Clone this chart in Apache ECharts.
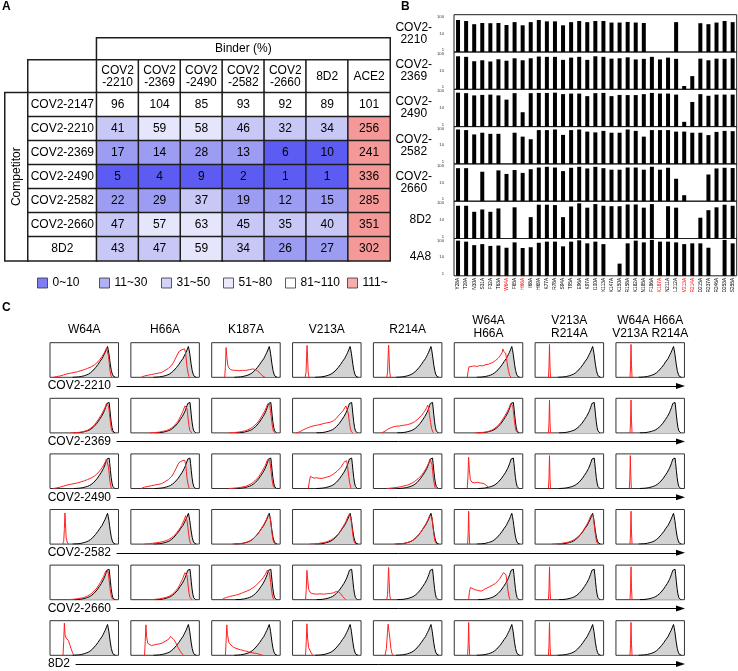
<!DOCTYPE html>
<html><head><meta charset="utf-8">
<script src="https://cdn.jsdelivr.net/npm/echarts@6/dist/echarts.min.js"></script>
<style>html,body{margin:0;padding:0;background:#fff}#c{width:738px;height:671px}</style>
</head><body><div id="c"></div><script>
const FONT = '"Liberation Sans", Arial, Helvetica, sans-serif';

// ---------- Panel A data ----------
const binders = ['COV2\n-2210','COV2\n-2369','COV2\n-2490','COV2\n-2582','COV2\n-2660','8D2','ACE2'];
const competitors = ['COV2-2147','COV2-2210','COV2-2369','COV2-2490','COV2-2582','COV2-2660','8D2'];
const comp2147 = [96,104,85,93,92,89,101];
const comp2210 = [41,59,58,46,32,34,256];
const comp2369 = [17,14,28,13,6,10,241];
const comp2490 = [5,4,9,2,1,1,336];
const comp2582 = [22,29,37,19,12,15,285];
const comp2660 = [47,57,63,45,35,40,351];
const comp8D2  = [43,47,59,34,26,27,302];
const rangeLabels = ['0~10','11~30','31~50','51~80','81~110','111~'];
const rangeLow  = [0,11,31,51,81,111];
const rangeHigh = [10,30,50,80,110,null];
const rangeColors = ['#5c5cf2','#9c9cf3','#c8c8f7','#e5e5fb','#ffffff','#f59898'];

// ---------- Panel B data ----------
const mutants = ['Y28A','T29A','N30A','S31A','F32A','T63A','W64A','F65A','H66A','I68A','H69A','K77A','R78A','S94A','T95A','E96A','K97A','I100A','K113A','K147A','K150A','R158A','K182A','N185A','F186A','K187A','N211A','L212A','V213A','R214A','D215A','R237A','R246A','D253A','S255A'];
const redMutants = ['W64A','H66A','K187A','V213A','R214A'];
const escapeNames = ['COV2-\n2210','COV2-\n2369','COV2-\n2490','COV2-\n2582','COV2-\n2660','8D2','4A8'];
const esc2210 = [52,46,31,36,35,36,28,40,27,40,52,44,44,27,40,46,40,46,46,38,38,41,38,36,null,null,null,40,null,null,35,31,38,46,40];
const esc2369 = [59,55,32,36,31,41,34,46,36,46,57,55,55,38,50,55,38,59,55,44,46,52,40,43,55,40,50,43,1.5,5.1,44,36,44,43,46];
const esc2490 = [66,62,47,50,52,47,28,62,5.9,62,64,64,66,55,59,59,43,62,64,43,50,49,49,55,64,59,59,52,1.8,21,55,45,52,52,52];
const esc2582 = [70,65,38,47,41,41,null,47,29,21,65,65,70,36,65,70,54,49,59,47,47,70,59,29,65,65,65,54,54,47,47,35,52,59,57];
const esc2660 = [59,59,null,38,null,45,29,47,33,52,64,70,64,41,62,70,57,70,59,49,49,64,64,49,70,49,62,16,2.1,null,null,27,57,62,60];
const esc8D2  = [57,57,27,36,27,41,null,47,null,14,65,65,62,14,52,77,45,70,57,54,54,67,67,45,70,null,54,45,null,null,13,33,47,65,57];
const esc4A8  = [77,68,44,50,40,42,32,62,31,34,59,68,68,38,68,80,55,68,50,null,4.5,55,77,62,84,68,68,62,50,55,55,32,null,84,55];
const escapeRows = [esc2210,esc2369,esc2490,esc2582,esc2660,esc8D2,esc4A8];

// ---------- Panel C data (normalised histogram outlines: [position, height]) ----------
const cColumns = ['W64A','H66A','K187A','V213A','R214A','W64A\nH66A','V213A\nR214A','W64A H66A\nV213A R214A'];
const cRows = ['COV2-2210','COV2-2369','COV2-2490','COV2-2582','COV2-2660','8D2'];
const wtA = [[0.33,0],[0.38,0.005],[0.42,0.012],[0.46,0.025],[0.5,0.045],[0.53,0.065],[0.56,0.09],[0.59,0.13],[0.62,0.18],[0.645,0.23],[0.665,0.28],[0.685,0.32],[0.7,0.37],[0.715,0.41],[0.73,0.46],[0.745,0.5],[0.76,0.54],[0.775,0.6],[0.79,0.66],[0.805,0.72],[0.82,0.79],[0.83,0.83],[0.84,0.89],[0.85,0.8],[0.86,0.68],[0.87,0.53],[0.88,0.38],[0.895,0.2],[0.91,0.09],[0.925,0.03],[0.94,0.008],[0.955,0]];
const wtB = [[0.35,0],[0.4,0.005],[0.44,0.012],[0.48,0.025],[0.52,0.045],[0.55,0.065],[0.58,0.09],[0.61,0.13],[0.64,0.18],[0.665,0.23],[0.685,0.28],[0.705,0.33],[0.72,0.38],[0.735,0.42],[0.75,0.47],[0.765,0.52],[0.78,0.58],[0.795,0.65],[0.81,0.73],[0.82,0.79],[0.83,0.85],[0.838,0.82],[0.846,0.87],[0.855,0.83],[0.863,0.88],[0.872,0.72],[0.882,0.52],[0.893,0.32],[0.905,0.16],[0.918,0.06],[0.93,0.015],[0.945,0]];
const redSame1 = [[0.3,0],[0.36,0.005],[0.42,0.015],[0.47,0.03],[0.51,0.05],[0.55,0.08],[0.59,0.13],[0.62,0.18],[0.65,0.24],[0.675,0.3],[0.695,0.35],[0.71,0.4],[0.725,0.45],[0.74,0.5],[0.755,0.55],[0.77,0.6],[0.785,0.66],[0.8,0.72],[0.812,0.78],[0.822,0.84],[0.83,0.8],[0.838,0.87],[0.846,0.85],[0.855,0.78],[0.864,0.62],[0.873,0.45],[0.883,0.28],[0.895,0.12],[0.908,0.04],[0.92,0.01],[0.935,0]];
const redSame2 = [[0.25,0],[0.32,0.01],[0.38,0.02],[0.44,0.04],[0.49,0.06],[0.53,0.09],[0.57,0.13],[0.6,0.17],[0.63,0.22],[0.66,0.28],[0.685,0.34],[0.705,0.4],[0.72,0.45],[0.735,0.5],[0.75,0.55],[0.765,0.6],[0.78,0.66],[0.795,0.73],[0.808,0.8],[0.818,0.83],[0.828,0.86],[0.838,0.88],[0.848,0.8],[0.858,0.65],[0.868,0.48],[0.878,0.3],[0.89,0.15],[0.9,0.06],[0.912,0.015],[0.925,0]];
const redLeft1 = [[0.28,0],[0.35,0.01],[0.42,0.025],[0.48,0.05],[0.52,0.07],[0.56,0.1],[0.6,0.15],[0.63,0.2],[0.66,0.27],[0.685,0.33],[0.705,0.4],[0.72,0.46],[0.735,0.52],[0.75,0.58],[0.765,0.65],[0.778,0.72],[0.79,0.78],[0.8,0.82],[0.81,0.8],[0.82,0.7],[0.83,0.52],[0.84,0.34],[0.85,0.18],[0.862,0.07],[0.875,0.015],[0.89,0]];
const redLeft2 = [[0.2,0],[0.26,0.01],[0.32,0.025],[0.38,0.04],[0.44,0.06],[0.5,0.09],[0.55,0.13],[0.6,0.19],[0.64,0.26],[0.67,0.33],[0.7,0.41],[0.72,0.47],[0.74,0.54],[0.76,0.62],[0.775,0.69],[0.79,0.76],[0.8,0.82],[0.81,0.79],[0.82,0.68],[0.832,0.5],[0.843,0.3],[0.855,0.13],[0.867,0.04],[0.88,0]];
const redBroadW = [[0.05,0],[0.1,0.02],[0.15,0.04],[0.2,0.07],[0.25,0.1],[0.3,0.12],[0.35,0.14],[0.4,0.16],[0.45,0.19],[0.5,0.22],[0.55,0.26],[0.6,0.3],[0.65,0.36],[0.7,0.45],[0.73,0.52],[0.76,0.6],[0.79,0.7],[0.81,0.78],[0.825,0.85],[0.835,0.88],[0.845,0.8],[0.855,0.6],[0.865,0.4],[0.875,0.2],[0.89,0.05],[0.9,0]];
const redBroadH = [[0.15,0],[0.2,0.04],[0.25,0.06],[0.3,0.08],[0.35,0.1],[0.4,0.12],[0.45,0.14],[0.5,0.2],[0.55,0.26],[0.6,0.36],[0.63,0.46],[0.66,0.58],[0.69,0.7],[0.71,0.76],[0.73,0.78],[0.75,0.8],[0.77,0.78],[0.785,0.82],[0.8,0.7],[0.81,0.5],[0.82,0.3],[0.835,0.12],[0.85,0.02],[0.86,0]];
const redBroadV1 = [[0.05,0],[0.1,0.03],[0.15,0.08],[0.2,0.13],[0.25,0.17],[0.3,0.2],[0.35,0.22],[0.4,0.24],[0.45,0.27],[0.5,0.29],[0.55,0.31],[0.6,0.35],[0.64,0.42],[0.68,0.52],[0.71,0.58],[0.74,0.65],[0.76,0.72],[0.78,0.78],[0.79,0.8],[0.8,0.74],[0.815,0.55],[0.83,0.3],[0.845,0.12],[0.86,0.03],[0.88,0]];
const redBroadV2 = [[0.12,0],[0.17,0.05],[0.22,0.12],[0.27,0.16],[0.32,0.19],[0.38,0.2],[0.44,0.22],[0.5,0.24],[0.55,0.27],[0.6,0.32],[0.65,0.4],[0.7,0.5],[0.73,0.58],[0.76,0.66],[0.78,0.74],[0.795,0.8],[0.805,0.72],[0.82,0.5],[0.835,0.3],[0.85,0.12],[0.87,0.02],[0.88,0]];
const redBroadR = [[0.2,0],[0.3,0.02],[0.4,0.05],[0.5,0.1],[0.55,0.14],[0.6,0.2],[0.65,0.28],[0.7,0.38],[0.73,0.46],[0.76,0.55],[0.79,0.66],[0.81,0.75],[0.825,0.84],[0.835,0.88],[0.845,0.84],[0.855,0.7],[0.865,0.5],[0.875,0.3],[0.89,0.12],[0.9,0.03],[0.915,0]];
const redBroadK = [[0.15,0],[0.18,0.04],[0.22,0.07],[0.26,0.09],[0.3,0.11],[0.35,0.13],[0.4,0.16],[0.45,0.2],[0.5,0.24],[0.55,0.28],[0.6,0.34],[0.64,0.4],[0.68,0.48],[0.72,0.56],[0.75,0.63],[0.78,0.72],[0.8,0.8],[0.815,0.86],[0.825,0.84],[0.835,0.88],[0.845,0.75],[0.86,0.5],[0.875,0.25],[0.89,0.08],[0.905,0.01],[0.915,0]];
const redPlateau1 = [[0.19,0],[0.2,0.15],[0.215,0.3],[0.24,0.35],[0.27,0.32],[0.3,0.33],[0.33,0.31],[0.37,0.34],[0.41,0.33],[0.45,0.36],[0.5,0.38],[0.55,0.42],[0.6,0.48],[0.64,0.55],[0.67,0.62],[0.7,0.72],[0.71,0.82],[0.72,0.75],[0.735,0.78],[0.75,0.7],[0.77,0.45],[0.79,0.2],[0.81,0.05],[0.83,0]];
const redPlateau2 = [[0.23,0],[0.245,0.2],[0.26,0.35],[0.28,0.34],[0.31,0.3],[0.35,0.31],[0.4,0.29],[0.45,0.3],[0.5,0.33],[0.55,0.36],[0.6,0.42],[0.65,0.5],[0.7,0.6],[0.74,0.72],[0.76,0.78],[0.775,0.82],[0.79,0.8],[0.805,0.6],[0.82,0.35],[0.835,0.15],[0.85,0.03],[0.86,0]];
const redPlateau3 = [[0.21,0],[0.22,0.2],[0.235,0.35],[0.26,0.3],[0.29,0.3],[0.32,0.28],[0.36,0.26],[0.4,0.25],[0.44,0.3],[0.48,0.34],[0.52,0.38],[0.56,0.42],[0.6,0.47],[0.64,0.55],[0.67,0.62],[0.7,0.72],[0.72,0.78],[0.74,0.8],[0.755,0.72],[0.77,0.5],[0.785,0.25],[0.8,0.08],[0.815,0]];
const redSpikeTailK = [[0.19,0],[0.2,0.3],[0.21,0.86],[0.22,0.6],[0.235,0.35],[0.25,0.27],[0.28,0.22],[0.32,0.2],[0.36,0.2],[0.4,0.19],[0.45,0.2],[0.5,0.2],[0.55,0.22],[0.6,0.24],[0.63,0.23],[0.66,0.2],[0.69,0.15],[0.72,0.08],[0.75,0.03],[0.78,0]];
const redSpikeTailV = [[0.19,0],[0.2,0.3],[0.21,0.85],[0.22,0.6],[0.235,0.3],[0.26,0.2],[0.3,0.17],[0.35,0.16],[0.4,0.17],[0.45,0.16],[0.5,0.17],[0.55,0.18],[0.6,0.2],[0.64,0.24],[0.67,0.23],[0.7,0.18],[0.73,0.1],[0.76,0.03],[0.78,0]];
const redSpikeTail2 = [[0.19,0],[0.2,0.35],[0.21,0.9],[0.22,0.55],[0.235,0.25],[0.26,0.18],[0.3,0.16],[0.34,0.18],[0.38,0.16],[0.42,0.15],[0.45,0.12],[0.48,0.07],[0.5,0.03],[0.52,0]];
const redSpikeShoulder = [[0.19,0],[0.2,0.4],[0.21,0.93],[0.22,0.6],[0.235,0.5],[0.25,0.48],[0.27,0.42],[0.29,0.3],[0.31,0.18],[0.33,0.07],[0.35,0]];
const redSpikeHump = [[0.2,0],[0.21,0.4],[0.22,0.88],[0.23,0.55],[0.245,0.35],[0.27,0.3],[0.3,0.28],[0.34,0.3],[0.38,0.32],[0.42,0.33],[0.46,0.36],[0.5,0.4],[0.53,0.44],[0.56,0.48],[0.58,0.55],[0.6,0.5],[0.63,0.45],[0.66,0.35],[0.69,0.22],[0.72,0.12],[0.75,0.04],[0.77,0]];
const redSpikeDecay = [[0.2,0],[0.21,0.4],[0.22,0.88],[0.23,0.6],[0.25,0.38],[0.28,0.3],[0.32,0.23],[0.37,0.19],[0.42,0.16],[0.48,0.13],[0.54,0.1],[0.6,0.07],[0.66,0.05],[0.71,0.02],[0.75,0]];
const redSpikeSmall = [[0.19,0],[0.2,0.4],[0.21,0.91],[0.22,0.5],[0.235,0.22],[0.25,0.17],[0.27,0.08],[0.29,0.02],[0.3,0]];
const spikeA = [[0.185,0],[0.197,0.15],[0.205,0.6],[0.212,0.92],[0.22,0.55],[0.228,0.15],[0.24,0]];
const spikeB = [[0.195,0],[0.207,0.15],[0.215,0.6],[0.222,0.93],[0.23,0.55],[0.238,0.15],[0.25,0]];
const spikeN = [[0.195,0],[0.203,0.3],[0.21,0.95],[0.217,0.35],[0.225,0]];
const spikeN2 = [[0.205,0],[0.213,0.3],[0.22,0.95],[0.227,0.35],[0.235,0]];
const spikeFoot = [[0.185,0],[0.2,0.08],[0.21,0.45],[0.218,0.9],[0.226,0.6],[0.235,0.2],[0.25,0.06],[0.27,0]];
const spikeWide = [[0.17,0],[0.19,0.2],[0.205,0.65],[0.215,0.9],[0.225,0.85],[0.24,0.5],[0.255,0.2],[0.27,0.06],[0.29,0]];
const cBlackRows = [wtA, wtB, wtB, wtA, wtB, wtA];
const cRedRows = [
  [redBroadW, redBroadH, redSpikeTailK, spikeA, spikeB, redPlateau1, spikeN, spikeN2],
  [redSame1, redLeft1, redSame2, redBroadV1, redBroadV2, redSame1, spikeN, spikeN2],
  [redBroadW, redBroadH, redSame2, redPlateau2, redBroadR, redSpikeTail2, spikeN, spikeN],
  [spikeFoot, redLeft2, redSame1, redSame2, redSame1, spikeN, redSame2, spikeN2],
  [redSame2, redLeft1, redBroadK, redSpikeTailV, spikeB, redPlateau3, spikeN, spikeN2],
  [redSpikeShoulder, redSpikeHump, redSpikeDecay, redSpikeSmall, spikeWide, spikeN, spikeN, spikeN2]
];

// ---------- build ----------
const grids = [], xAxes = [], yAxes = [], series = [];
function addGrid(g, x, y) {
  const gi = grids.length;
  grids.push(Object.assign({outerBoundsMode: 'none', containLabel: false, show: false}, g));
  xAxes.push(Object.assign({gridIndex: gi}, x));
  yAxes.push(Object.assign({gridIndex: gi}, y));
  return gi;
}
const cellItem = {borderColor: '#1e1e1e', borderWidth: 1.5};
function tableGrid(box, xCats, yCats, cells, fmt, yExtra) {
  const gi = addGrid({left: box[0], top: box[1], width: box[2], height: box[3]},
    {type: 'category', data: xCats, show: false},
    Object.assign({type: 'category', data: yCats, inverse: true, show: false}, yExtra || {}));
  series.push({type: 'heatmap', xAxisIndex: gi, yAxisIndex: gi, data: cells,
    label: {show: true, formatter: fmt, fontSize: 12, lineHeight: 12, color: '#000', fontFamily: FONT},
    itemStyle: cellItem, emphasis: {disabled: true}});
  return series.length - 1;
}
const compRows = [comp2147, comp2210, comp2369, comp2490, comp2582, comp2660, comp8D2];
const mainCells = [];
compRows.forEach((row, r) => row.forEach((v, c) => mainCells.push([c, r, v])));
const labelSeries = [];
labelSeries.push(tableGrid([96.7, 38, 293.3, 22], ['b'], ['b'], [[0, 0, 0]], () => 'Binder (%)'));
labelSeries.push(tableGrid([28, 60, 68.7, 32.7], ['c'], ['c'], [[0, 0, 0]], () => ''));
labelSeries.push(tableGrid([96.7, 60, 293.3, 32.7], binders, ['h'], binders.map((b, i) => [i, 0, 0]), p => binders[p.value[0]]));
labelSeries.push(tableGrid([5, 92.7, 23, 168], ['k'], ['k'], [[0, 0, 0]], () => ''));
labelSeries.push(tableGrid([28, 92.7, 68.7, 168], ['r'], competitors, competitors.map((c, i) => [0, i, 0]), p => competitors[p.value[1]],
  {show: true, z: 10, axisLine: {show: false}, axisTick: {show: false}, axisLabel: {show: false}, splitLine: {show: false},
   name: 'Competitor', nameLocation: 'middle', nameRotate: 90, nameGap: 11.5,
   nameTextStyle: {fontSize: 12, color: '#000', align: 'center', verticalAlign: 'middle', fontFamily: FONT}}));
const mainIdx = tableGrid([96.7, 92.7, 293.3, 168], binders, competitors, mainCells, p => p.value[2]);
// legend carriers
rangeLabels.forEach((name, i) => {
  series.push({type: 'scatter', name: name, xAxisIndex: grids.length - 1, yAxisIndex: grids.length - 1, data: [],
    itemStyle: {color: rangeColors[i], borderColor: '#333', borderWidth: 1}});
});

// Panel B
const catData = mutants.map(m => redMutants.indexOf(m) >= 0 ? {value: m, textStyle: {color: '#ff0000'}} : m);
escapeRows.forEach((vals, r) => {
  const last = r === escapeRows.length - 1;
  const gi = addGrid({left: 454, top: 14.7 + 37.3 * r, width: 282.7, height: 37.3, show: true, borderColor: '#1e1e1e', borderWidth: 1},
    {type: 'category', data: catData, axisLine: {show: false}, axisTick: {show: false}, splitLine: {show: false},
     axisLabel: {show: last, interval: 0, rotate: 90, fontSize: 4.8, margin: 2, color: '#000', fontFamily: FONT}},
    {type: 'log', logBase: 10, min: 1, max: 100, axisLine: {show: false}, axisTick: {show: false}, splitLine: {show: false},
     axisLabel: {fontSize: 4.2, color: '#333', margin: 10, showMinLabel: true, showMaxLabel: true,
       verticalAlignMinLabel: 'bottom', verticalAlignMaxLabel: 'top', fontFamily: FONT},
     name: escapeNames[r], nameLocation: 'middle', nameRotate: 0, nameGap: 33.5,
     nameTextStyle: {fontSize: 12, lineHeight: 12, color: '#000', align: 'center', verticalAlign: 'middle', fontFamily: FONT}});
  series.push({type: 'bar', xAxisIndex: gi, yAxisIndex: gi, barWidth: 4, itemStyle: {color: '#000'},
    data: vals.map(v => v == null ? '-' : v), emphasis: {disabled: true}});
});

// Panel C
const headerGap = [13.4, 13.4, 13.4, 13.4, 13.4, 16, 16, 16];
cRows.forEach((rowName, r) => {
  const top = 342.7 + 55.6 * r;
  cColumns.forEach((colName, c) => {
    const left = 50 + 80.85 * c;
    const xAx = r === 0
      ? {type: 'value', min: 0, max: 1, position: 'top', show: true, axisLine: {show: false}, axisTick: {show: false},
         axisLabel: {show: false}, splitLine: {show: false}, name: colName, nameLocation: 'middle', nameGap: headerGap[c],
         nameTextStyle: {fontSize: 12, lineHeight: 13, color: '#000', align: 'center', verticalAlign: 'middle', fontFamily: FONT}}
      : {type: 'value', min: 0, max: 1, show: false};
    const gi = addGrid({left: left, top: top, width: 68.5, height: 34.6, show: true, borderColor: '#333', borderWidth: 1},
      xAx, {type: 'value', min: 0, max: 1, show: false});
    series.push({type: 'line', xAxisIndex: gi, yAxisIndex: gi, data: cBlackRows[r], symbol: 'none',
      lineStyle: {color: '#000', width: 1}, areaStyle: {color: '#d3d3d3', opacity: 1}, emphasis: {disabled: true}});
    series.push({type: 'line', xAxisIndex: gi, yAxisIndex: gi, data: cRedRows[r][c], symbol: 'none',
      lineStyle: {color: '#ff2020', width: 1}, emphasis: {disabled: true}});
  });
  const axisY = 386 + 55.6 * r;
  const aLeft = r === cRows.length - 1 ? 76 : 117;
  addGrid({left: aLeft, top: axisY - 1, width: 680.5 - aLeft, height: 1},
    {type: 'value', min: 0, max: 1, axisLine: {show: true, lineStyle: {color: '#000', width: 1}, symbol: ['none', 'triangle'], symbolSize: [6, 9]},
     axisTick: {show: false}, axisLabel: {show: false}, splitLine: {show: false},
     name: rowName, nameLocation: 'start', nameGap: 6,
     nameTextStyle: {fontSize: 12, color: '#000', align: 'right', verticalAlign: 'middle', fontFamily: FONT}},
    {type: 'value', min: 0, max: 1, show: false});
});

const pieces = rangeLow.map((lo, i) => {
  const p = {gte: lo, color: rangeColors[i]};
  if (rangeHigh[i] != null) p.lte = rangeHigh[i];
  return p;
});

const option = {
  animation: false,
  backgroundColor: '#ffffff',
  textStyle: {fontFamily: FONT},
  grid: grids, xAxis: xAxes, yAxis: yAxes, series: series,
  visualMap: [
    {type: 'piecewise', show: false, seriesIndex: mainIdx, dimension: 2, pieces: pieces},
    {type: 'piecewise', show: false, seriesIndex: labelSeries, dimension: 2, pieces: [{gte: -1, lte: 1, color: '#ffffff'}]}
  ],
  legend: {data: rangeLabels, left: 37, top: 276, padding: 0, itemWidth: 10, itemHeight: 10, itemGap: 2.5, icon: 'rect',
    selectedMode: false, itemStyle: {borderColor: '#333', borderWidth: 1},
    textStyle: {fontSize: 12, color: '#000', width: 44, lineHeight: 14, fontFamily: FONT}},
  graphic: [
    {type: 'text', left: 2, top: 1, style: {text: 'A', font: 'bold 12px ' + FONT, fill: '#000'}},
    {type: 'text', left: 401, top: 1, style: {text: 'B', font: 'bold 12px ' + FONT, fill: '#000'}},
    {type: 'text', left: 2, top: 302, style: {text: 'C', font: 'bold 12px ' + FONT, fill: '#000'}}
  ]
};
const chart = echarts.init(document.getElementById('c'), null, {renderer: 'canvas'});
chart.setOption(option);
</script></body></html>
